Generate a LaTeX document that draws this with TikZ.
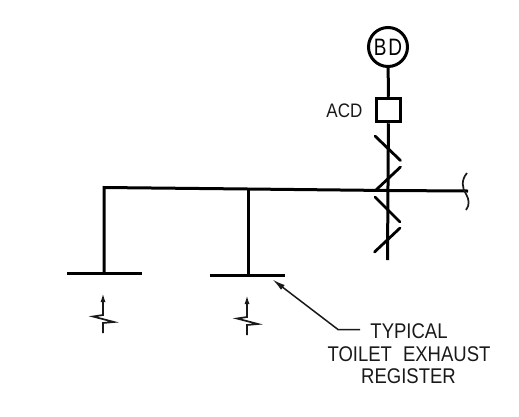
\documentclass[tikz,border=0pt]{standalone}
\usepackage{fontspec}
\setmainfont{Liberation Sans}
\usetikzlibrary{arrows.meta}
\newcommand{\tallertext}[1]{\scalebox{1}[1.15]{#1}}
\tikzset{
  duct/.style={line width=3pt,black},
  damper/.style={line width=2.8pt,black,line cap=round},
  thin leader/.style={line width=1.5pt,black!90},
  flowline/.style={line width=1.7pt,black!90},
  flow/.style={line width=1.7pt,black!90,-{Latex[length=9pt,width=5pt]}},
  label/.style={inner sep=0pt,font=\fontsize{18.5}{20}\selectfont,text=black!90},
  acdtext/.style={inner sep=0pt,font=\fontsize{17}{18}\selectfont,text=black!90},
  fan/.style={circle,draw=black,line width=3pt,minimum size=39pt,inner sep=0pt,font=\fontsize{19}{20}\selectfont},
  acd/.style={rectangle,draw=black,line width=3pt,minimum size=23.5pt,inner sep=0pt}
}
\begin{document}
\begin{tikzpicture}[x=1pt,y=-1pt]
\useasboundingbox (0,0) rectangle (519,416);
\node[fan] (fan) at (388,47) {\scalebox{1}[1.25]{B\hspace{2pt}D}};
\node[acd] (box) at (388.5,110) {};
\node[acdtext,anchor=east] (acdlabel) at (362.5,111) {\tallertext{ACD}};
\coordinate (vend) at (387.5,260);
\coordinate (corner) at (104,187.5);
\coordinate (tee) at (248,189);
\coordinate (cross) at (387.5,190.5);
\coordinate (mainend) at (468,191);
\coordinate (regA) at (104,273.5);
\coordinate (regAl) at (67,273.5);
\coordinate (regAr) at (141.5,273.5);
\coordinate (regB) at (248,275);
\coordinate (regBl) at (210,275);
\coordinate (regBr) at (285,275);
\draw[duct] (fan) -- (box);
\draw[duct] (box) -- (vend);
\draw[duct,line join=miter] (regA) -- (corner) -- (tee) -- (cross) -- (mainend);
\draw[duct] (tee) -- (regB);
\draw[duct] (regAl) -- (regAr);
\draw[duct] (regBl) -- (regBr);
% dampers
\coordinate (d1a) at (375,136); \coordinate (d1b) at (400.5,160.5);
\coordinate (d2a) at (400.5,167); \coordinate (d2b) at (376,190);
\coordinate (d3a) at (375,197); \coordinate (d3b) at (400,222);
\coordinate (d4a) at (400,228); \coordinate (d4b) at (374.5,252);
\draw[damper] (d1a) -- (d1b);
\draw[damper] (d2a) -- (d2b);
\draw[damper] (d3a) -- (d3b);
\draw[damper] (d4a) -- (d4b);
% break line
\coordinate (br1) at (467,173); \coordinate (br2) at (466,210);
\draw[flowline] (br1) .. controls (461,180) and (462,188) .. (466,194) .. controls (469,199) and (470,205) .. (br2);
% flow arrows
\coordinate (fa) at (103,293); \coordinate (fb) at (247,295);
\draw[flowline] (103,333) -- (103,323) -- (114,322) -- (93,316.5) -- (103,315) -- (103,300);
\draw[flow] (103,304) -- (fa);
\draw[flowline] (247,335) -- (247,325) -- (258,324) -- (237,318.5) -- (247,317) -- (247,302);
\draw[flow] (247,306) -- (fb);
% leader
\coordinate (ltip) at (272.5,279.5); \coordinate (lbend) at (338,329.5); \coordinate (lend) at (360,329.5);
\draw[thin leader,{Latex[length=13pt,width=6pt]}-] (ltip) -- (lbend) -- (lend);
\node[label,anchor=center] (t1) at (409,331) {\tallertext{TYPICAL}};
\node[label,anchor=center] (t2) at (409,354.5) {\tallertext{TOILET\hspace{11pt}EXHAUST}};
\node[label,anchor=center] (t3) at (408.5,376.5) {\tallertext{REGISTER}};
\end{tikzpicture}
\end{document}
